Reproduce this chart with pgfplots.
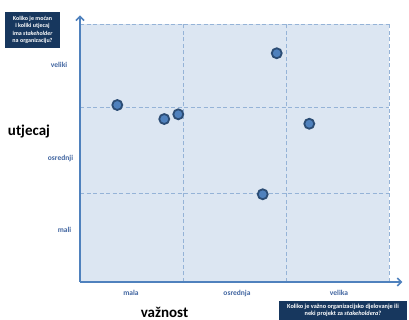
\documentclass[border=0pt]{standalone}
\usepackage{pgfplots}
\pgfplotsset{compat=1.18}
\usepackage{fontspec}
\setmainfont{Carlito}
\usetikzlibrary{arrows.meta}
\definecolor{quadfill}{HTML}{DCE6F2}
\definecolor{gridblue}{HTML}{95B3D7}
\definecolor{axisblue}{HTML}{4F81BD}
\definecolor{markedge}{HTML}{2C4D75}
\definecolor{lbl}{HTML}{4165A0}
\definecolor{boxnavy}{HTML}{17375E}
\begin{document}
\begin{tikzpicture}[x=1pt,y=1pt]
\useasboundingbox (0,0) rectangle (409,320);
\begin{axis}[
  at={(80pt,38pt)}, anchor=south west,
  scale only axis, width=309pt, height=258pt,
  xmin=0, xmax=3, ymin=0, ymax=3,
  hide axis, clip=false,
]
  % quadrant background
  \fill[quadfill] (axis cs:0,0) rectangle (axis cs:3,3);
  % dashed dividers
  \begin{scope}[gridblue, line width=0.9pt, dash pattern=on 4pt off 2.5pt]
    \draw (axis cs:1,0) -- (axis cs:1,3);
    \draw (axis cs:2,0) -- (axis cs:2,3);
    \draw (axis cs:3,0) -- (axis cs:3,3);
    \draw (axis cs:0,1.03) -- (axis cs:3,1.03);
    \draw (axis cs:0,2.03) -- (axis cs:3,2.03);
    \draw (axis cs:0,3) -- (axis cs:3,3);
  \end{scope}
  % axes with arrows
  \draw[axisblue, line width=1.6pt, -{Straight Barb[length=4pt,width=8pt]}] (axis cs:0,0) -- (axis cs:0,3.10);
  \draw[axisblue, line width=1.6pt, -{Straight Barb[length=4pt,width=8pt]}] (axis cs:0,0) -- (axis cs:3.13,0);
  % stakeholders
  \addplot[only marks, mark=*, mark size=5pt,
    mark options={fill=axisblue, draw=markedge, line width=1.8pt}]
    coordinates {
      (0.362,2.058)
      (0.818,1.895)
      (0.954,1.950)
      (1.910,2.660)
      (2.226,1.840)
      (1.774,1.020)
    };
\end{axis}
% category labels
\begin{scope}[font=\fontsize{7.5}{9}\selectfont\bfseries, text=lbl]
  \node at (59,255) {veliki};
  \node at (60.5,161.3) {osrednji};
  \node at (64.5,90) {mali};
  \node at (131,26.7) {mala};
  \node at (237,26) {osrednja};
  \node at (339,27.3) {velika};
\end{scope}
% axis titles
\node[font=\fontsize{15}{16}\selectfont\bfseries] at (29,188.3) {utjecaj};
\node[font=\fontsize{15}{16}\selectfont\bfseries, anchor=base] at (164.5,2.5) {važnost};
% question boxes
\node[fill=boxnavy, text=white, minimum width=55pt, minimum height=36pt, inner sep=1pt,
      align=center, font=\fontsize{6}{7.2}\selectfont\bfseries] at (32.5,290)
  {Koliko je moćan\\i koliki utjecaj\\ima \textit{stakeholder}\\na organizaciju?};
\node[fill=boxnavy, text=white, minimum width=128pt, minimum height=19pt, inner sep=1pt,
      align=center, font=\fontsize{6.3}{7.6}\selectfont\bfseries] at (343,9.5)
  {Koliko je važno organizacijsko djelovanje ili\\neki projekt za \textit{stakeholdera}?};
\end{tikzpicture}
\end{document}
